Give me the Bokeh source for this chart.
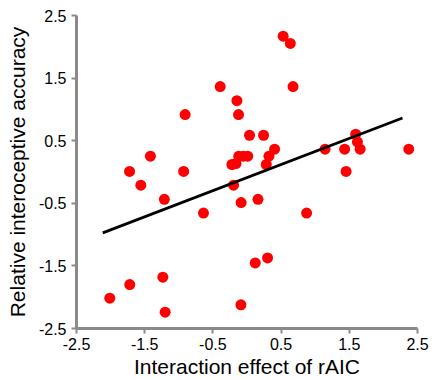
from bokeh.plotting import figure
from bokeh.models import Range1d, FixedTicker, ColumnDataSource, PrintfTickFormatter
from bokeh.embed import file_html
from bokeh.resources import INLINE

# Data
rAIC_effect = [0.53, 0.635, -0.393, 0.675, -0.148, -0.124, -0.907, 0.037, 0.243, 0.405,
               0.322, 0.283, -0.121, -0.055, 0.011, -0.221, -0.162, -1.416, -1.722, -0.929,
               -1.557, -0.197, -1.212, -0.638, -0.086, 0.161, 0.874, 1.145, 1.432, 1.453,
               1.594, 1.619, 1.659, 2.372, -1.234, -1.719, -2.012, -1.200, 0.121, 0.302,
               -0.089]
intero_accuracy = [2.17, 2.054, 1.364, 1.364, 1.140, 0.917, 0.917, 0.587, 0.587, 0.364,
                   0.253, 0.120, 0.253, 0.253, 0.253, 0.120, 0.136, 0.253, 0.009, 0.009,
                   -0.210, -0.210, -0.437, -0.656, -0.489, -0.437, -0.656, 0.364, 0.364, 0.009,
                   0.603, 0.481, 0.364, 0.364, -1.681, -1.799, -2.015, -2.239, -1.453, -1.373,
                   -2.122]
fit_x = [-2.115, 2.28]
fit_y = [-0.972, 0.862]
tick_values = [-2.5, -1.5, -0.5, 0.5, 1.5, 2.5]

FONT = "Liberation Sans"

p = figure(width=432, height=380, output_backend="svg", toolbar_location=None,
           x_range=Range1d(-2.5, 2.5), y_range=Range1d(-2.5, 2.5),
           min_border_left=76, min_border_right=15, min_border_top=15, min_border_bottom=52)
p.outline_line_color = None
p.grid.visible = False
p.background_fill_color = "white"
p.border_fill_color = "white"

src = ColumnDataSource(dict(x=rAIC_effect, y=intero_accuracy))
p.scatter("x", "y", source=src, size=11, fill_color="#ff0000", line_color=None)
p.line(fit_x, fit_y, line_color="black", line_width=2.75)

for ax in (p.xaxis[0], p.yaxis[0]):
    ax.ticker = FixedTicker(ticks=tick_values)
    ax.formatter = PrintfTickFormatter(format="%.1f")
    ax.axis_line_color = "#8a8a8a"
    ax.axis_line_width = 3
    ax.major_tick_line_color = "#8a8a8a"
    ax.major_tick_line_width = 2
    ax.major_tick_out = 5
    ax.major_tick_in = 0
    ax.minor_tick_line_color = None
    ax.major_label_text_font = FONT
    ax.major_label_text_font_size = "16px"
    ax.major_label_text_color = "black"
    ax.axis_label_text_font = FONT
    ax.axis_label_text_font_size = "21px"
    ax.axis_label_text_font_style = "normal"
    ax.axis_label_text_color = "black"

p.xaxis.major_label_standoff = 4
p.yaxis.major_label_standoff = 5
p.xaxis.axis_label = "Interaction effect of rAIC"
p.yaxis.axis_label = "Relative interoceptive accuracy"
p.xaxis.axis_label_standoff = 2
p.yaxis.axis_label_standoff = 7

open("out.html", "w").write(file_html(p, INLINE))
